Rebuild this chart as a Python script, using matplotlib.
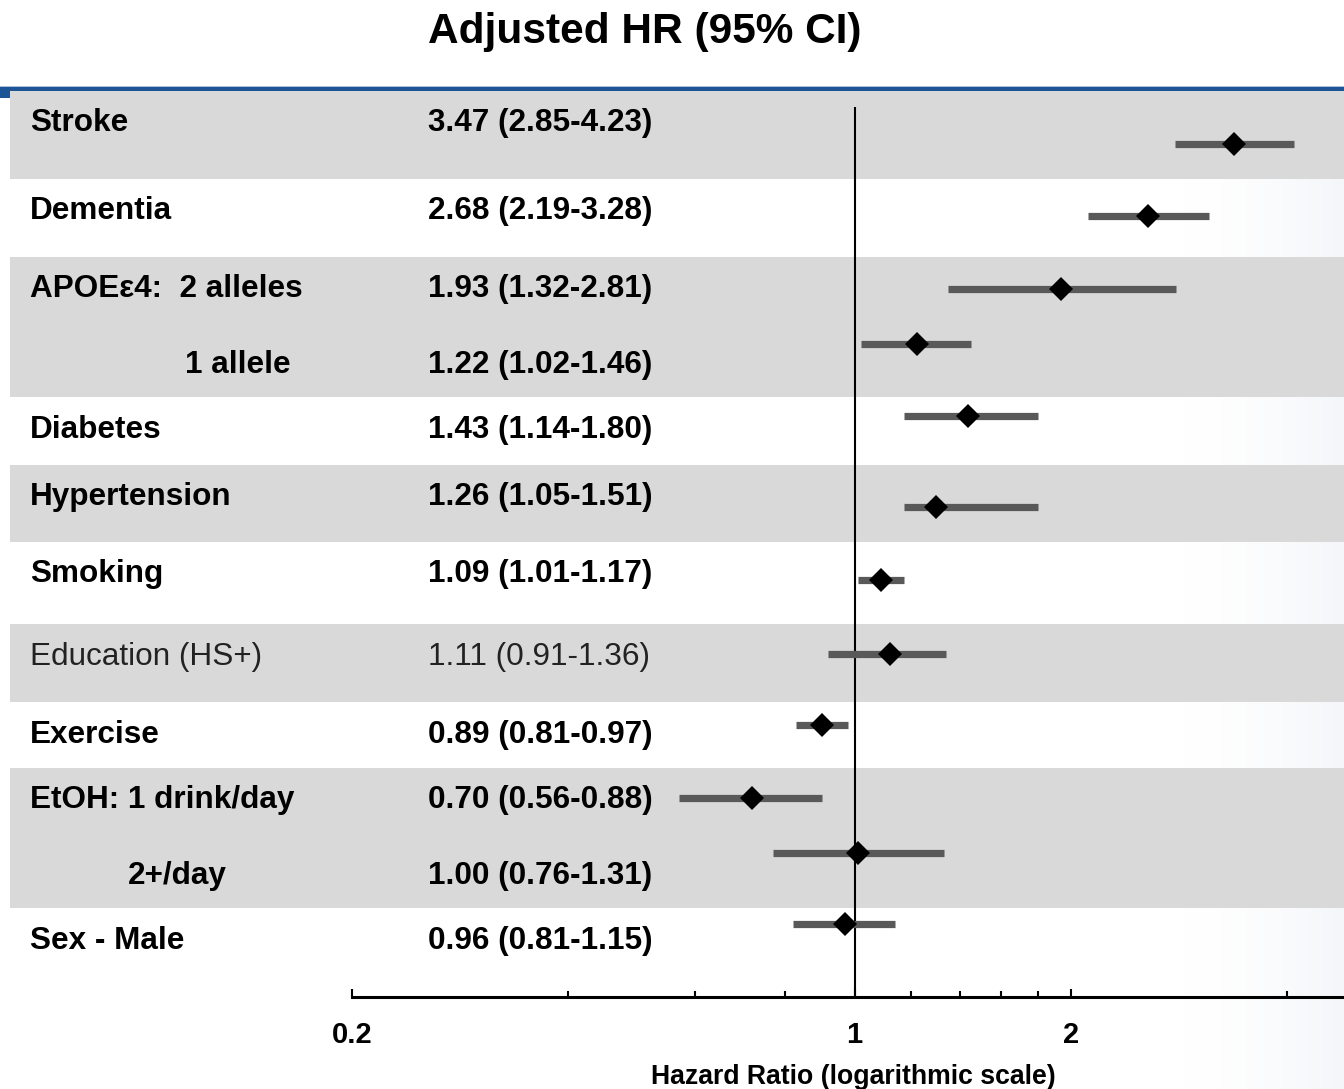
import numpy as np
import matplotlib
matplotlib.use("Agg")
import matplotlib.pyplot as plt
from matplotlib.patches import Rectangle
from matplotlib.ticker import NullFormatter, FixedLocator

plt.rcParams['font.family'] = ['Liberation Sans', 'DejaVu Sans']

# ---------------- data ----------------
title = "Adjusted HR (95% CI)"
row_labels = ["Stroke", "Dementia", "APOE\u03b54:  2 alleles", "1 allele", "Diabetes",
              "Hypertension", "Smoking", "Education (HS+)", "Exercise",
              "EtOH: 1 drink/day", "2+/day", "Sex - Male"]
hr_text = ["3.47 (2.85-4.23)", "2.68 (2.19-3.28)", "1.93 (1.32-2.81)", "1.22 (1.02-1.46)",
           "1.43 (1.14-1.80)", "1.26 (1.05-1.51)", "1.09 (1.01-1.17)", "1.11 (0.91-1.36)",
           "0.89 (0.81-0.97)", "0.70 (0.56-0.88)", "1.00 (0.76-1.31)", "0.96 (0.81-1.15)"]
# estimates and intervals as drawn in the picture
hr_est = [3.37, 2.56, 1.94, 1.22, 1.44, 1.30, 1.09, 1.12, 0.90, 0.72, 1.01, 0.97]
ci_low = [2.79, 2.11, 1.35, 1.02, 1.17, 1.17, 1.01, 0.92, 0.83, 0.57, 0.77, 0.82]
ci_high = [4.09, 3.11, 2.80, 1.45, 1.80, 1.80, 1.17, 1.34, 0.98, 0.90, 1.33, 1.14]
bold_rows = [True, True, True, True, True, True, True, False, True, True, True, True]
major_ticks = [0.2, 1, 2]
major_tick_labels = ["0.2", "1", "2"]
minor_ticks = [0.4, 0.6, 0.8, 1.2, 1.4, 1.6, 1.8, 4]
x_label = "Hazard Ratio (logarithmic scale)"

# ---------------- layout (pixels) ----------------
W, H = 1344, 1089
label_x = [30, 30, 30, 185, 30, 30, 30, 30, 30, 30, 128, 30]
value_x = 428
text_y = [120, 208, 286, 362, 427, 494, 571, 654, 732, 797, 873, 938]
mark_y = [144, 216, 289, 344, 416, 507, 580, 654, 725, 798, 853, 924]
band_spans = [(91, 179), (257, 397), (465, 542), (624, 702), (768, 908)]
ax_left_px, ax_right_px, ax_top_px, ax_bot_px = 352, 1344, 92, 997
x_right = 10 ** ((1344 - 854.5) / 719.0)

fig = plt.figure(figsize=(W / 100, H / 100), dpi=100)
bg = fig.add_axes([0, 0, 1, 1])
bg.set_xlim(0, W)
bg.set_ylim(H, 0)
bg.axis('off')

# subtle gradient at right edge
grad = np.zeros((10, 200, 4))
t = np.linspace(0, 1, 200) ** 1.8
grad[..., 0] = 0.91
grad[..., 1] = 0.925
grad[..., 2] = 0.95
grad[..., 3] = t[None, :] * 0.45
bg.imshow(grad, extent=[1170, W, H, 92], aspect='auto', zorder=0.5, interpolation='bilinear')

# bands
for y0, y1 in band_spans:
    bg.add_patch(Rectangle((10, y0), W - 10, y1 - y0, color='#d9d9d9', lw=0, zorder=1))

# blue header line
bg.add_patch(Rectangle((0, 85.5), W, 1.8, color='#a8c0da', lw=0, zorder=2))
bg.add_patch(Rectangle((0, 87.2), W, 4.0, color='#1d5495', lw=0, zorder=2))
bg.add_patch(Rectangle((0, 87.2), 10, 10.5, color='#1d5495', lw=0, zorder=2))

# title
bg.text(645, 43, title, ha='center', va='baseline', fontsize=30.5, fontweight='bold', zorder=3)

# row texts
fs = 22.7
cap_half = 11.3
for lab, val, lx, ty, b in zip(row_labels, hr_text, label_x, text_y, bold_rows):
    w = 'bold' if b else 'normal'
    c = 'black' if b else '#222222'
    bg.text(lx, ty + cap_half, lab, ha='left', va='baseline', fontsize=fs, fontweight=w, color=c, zorder=3)
    bg.text(value_x, ty + cap_half, val, ha='left', va='baseline', fontsize=fs, fontweight=w, color=c, zorder=3)

# x label
bg.text(853, 1075 + 9.5, x_label, ha='center', va='baseline', fontsize=19.2, fontweight='bold', zorder=3)

# forest axes
ax = fig.add_axes([ax_left_px / W, (H - ax_bot_px) / H,
                   (ax_right_px - ax_left_px) / W, (ax_bot_px - ax_top_px) / H])
ax.patch.set_alpha(0)
ax.set_xscale('log')
ax.set_xlim(0.2, x_right)
ax.set_ylim(ax_bot_px, ax_top_px)

ax.vlines(1, 107, ax_bot_px, color='black', lw=1.5, zorder=2)
ax.hlines(mark_y, ci_low, ci_high, color='#595959', lw=5.2, zorder=3, capstyle='butt')
ax.plot(hr_est, mark_y, 'D', ms=12.5, color='black', mew=0, zorder=4, linestyle='none')

for s in ['top', 'left', 'right']:
    ax.spines[s].set_visible(False)
ax.spines['bottom'].set_linewidth(2.2)
ax.spines['bottom'].set_color('black')
ax.set_yticks([])
ax.xaxis.set_major_locator(FixedLocator(major_ticks))
ax.set_xticklabels(major_tick_labels)
ax.xaxis.set_minor_locator(FixedLocator(minor_ticks))
ax.xaxis.set_minor_formatter(NullFormatter())
ax.tick_params(axis='x', which='major', direction='in', length=6, width=1.5, labelsize=21, pad=17)
ax.tick_params(axis='x', which='minor', direction='in', length=4, width=1.5)
for lbl in ax.get_xticklabels():
    lbl.set_fontweight('bold')

fig.savefig('out.png', dpi=100)
